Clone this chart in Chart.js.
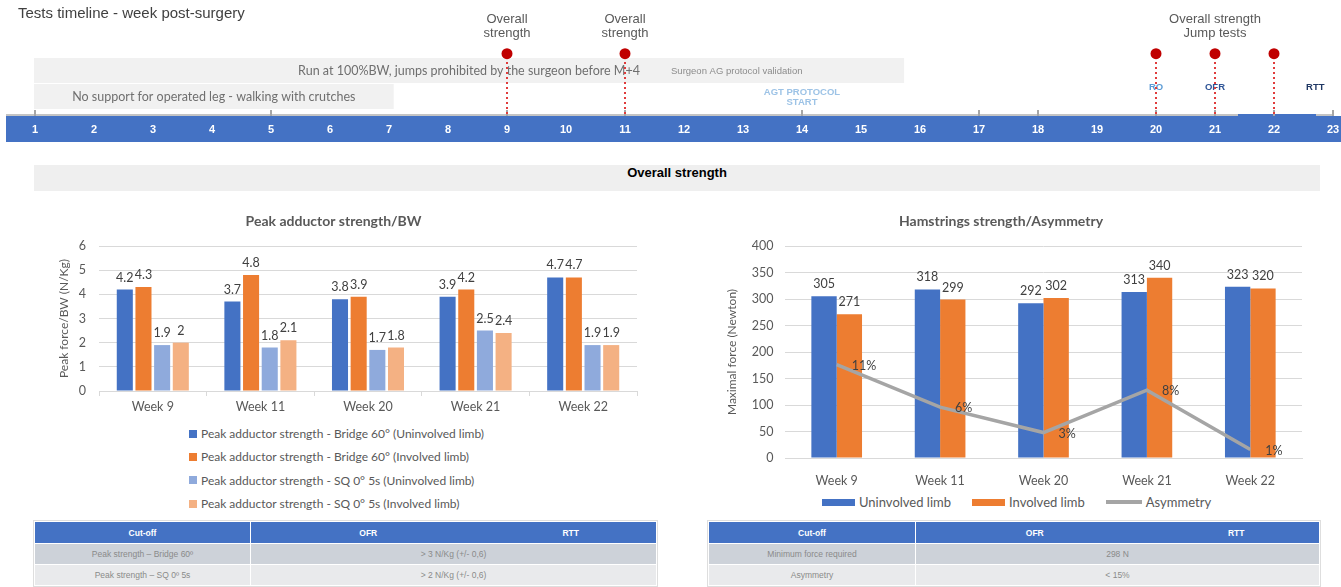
<!DOCTYPE html>
<html>
<head>
<meta charset="utf-8">
<script src="https://cdn.jsdelivr.net/npm/chart.js@4.4.1/dist/chart.umd.min.js"></script>
<style>
  html, body { margin: 0; padding: 0; background: #fff; }
  body { width: 1341px; height: 587px; position: relative; overflow: hidden; font-family: Lato, sans-serif; }
  canvas { position: absolute; }
  #timeline { left: 0; top: 0; }
  #adductor { left: 30px; top: 200px; }
  #hamstrings { left: 700px; top: 200px; }
  #banner {
    position: absolute; left: 34px; top: 165px; width: 1286px; height: 26px;
    background: #efefef; color: #000; text-align: center; line-height: 26px;
    font: bold 13px "Liberation Sans", Arial, sans-serif;
  }
  .legend { position: absolute; font-family: Lato, sans-serif; color: #595959; }
  #adductorLegend { left: 189px; top: 422px; font-size: 12px; }
  #adductorLegend .item { display: flex; align-items: center; height: 23.3px; }
  #adductorLegend .sw { width: 8px; height: 8px; margin-right: 4px; }
  #hamLegend { left: 822px; top: 492px; font-size: 13px; display: flex; align-items: center; height: 20px; gap: 21px; }
  #hamLegend .item { display: flex; align-items: center; }
  #hamLegend .sw { width: 33px; height: 7px; margin-right: 4px; }
  #hamLegend .sw.line { width: 36px; height: 3.5px; }
  table.cut {
    position: absolute; border-collapse: collapse; table-layout: fixed;
    font-family: "Liberation Sans", Arial, sans-serif; font-size: 8.5px;
    outline: 1px solid #dedede;
  }
  table.cut th { background: #4472c4; color: #fff; font-weight: bold; height: 21px; border: 1px solid #fff; padding: 0; text-align: center; }
  table.cut th:nth-child(2) { border-right-style: none; }
  table.cut th:nth-child(3) { border-left-style: none; }
  table.cut td { height: 20px; color: #8a8a8a; border: 1px solid #fff; padding: 0; text-align: center; }
  table.cut tr.r1 td { background: #cdd2d9; }
  table.cut tr.r2 td { background: #e9eaec; }
  #adductorTable { left: 34px; top: 521px; width: 622px; }
  #hamTable { left: 708px; top: 521px; width: 611px; }
</style>
</head>
<body>
<canvas id="timeline" width="1341" height="150"></canvas>
<div id="banner">Overall strength</div>
<canvas id="adductor" width="640" height="220"></canvas>
<div id="adductorLegend" class="legend"></div>
<canvas id="hamstrings" width="641" height="290"></canvas>
<div id="hamLegend" class="legend"></div>
<table id="adductorTable" class="cut"></table>
<table id="hamTable" class="cut"></table>

<script>
// ---- Timeline (weeks post-surgery) ----
const TIMELINE_WEEKS = [1, 2, 3, 4, 5, 6, 7, 8, 9, 10, 11, 12, 13, 14, 15, 16, 17, 18, 19, 20, 21, 22, 23];
const TICK_MARK_WEEKS = [1, 5, 9, 11, 14, 17, 18, 20, 21, 22, 23];
const TEST_WEEKS = [9, 11, 20, 21, 22];
const TEST_CAPTIONS = [['Overall', 'strength'], ['Overall', 'strength'], ['Overall strength', 'Jump tests']];
const TEST_CAPTION_WEEKS = [9, 11, 21];
const PHASE_LABELS = ['Run at 100%BW, jumps prohibited by the surgeon before M+4', 'No support for operated leg - walking with crutches'];
const PHASE_START = [1, 1];
const PHASE_END = [15.73, 7.08];
const MILESTONE_LABELS = [['AGT PROTOCOL', 'START'], ['RO'], ['OFR'], ['RTT']];
const MILESTONE_WEEKS = [14, 20, 21, 22.7];
const MILESTONE_COLORS = ['#9dc3e6', '#5b9bd5', '#2f5597', '#203864'];
const VALIDATION_NOTE = 'Surgeon AG protocol validation';
const VALIDATION_WEEK = 11.78;

// ---- Adductor strength (N/kg) ----
const WEEKS = ['Week 9', 'Week 11', 'Week 20', 'Week 21', 'Week 22'];
const BRIDGE_UNINVOLVED = [4.2, 3.7, 3.8, 3.9, 4.7];
const BRIDGE_INVOLVED = [4.3, 4.8, 3.9, 4.2, 4.7];
const SQ_UNINVOLVED = [1.9, 1.8, 1.7, 2.5, 1.9];
const SQ_INVOLVED = [2, 2.1, 1.8, 2.4, 1.9];

// ---- Hamstrings strength (N) and asymmetry (%) ----
const HAM_UNINVOLVED = [305, 318, 292, 313, 323];
const HAM_INVOLVED = [271, 299, 302, 340, 320];
const ASYMMETRY = [11, 6, 3, 8, 1];

// ---- Cut-off tables ----
const TABLE_HEADER = ['Cut-off', 'OFR', 'RTT'];
const ADDUCTOR_CUTOFF_NAMES = ['Peak strength – Bridge 60º', 'Peak strength – SQ 0º 5s'];
const ADDUCTOR_CUTOFF_VALUES = ['> 3 N/Kg (+/- 0,6)', '> 2 N/Kg (+/- 0,6)'];
const HAM_CUTOFF_NAMES = ['Minimum force required', 'Asymmetry'];
const HAM_CUTOFF_VALUES = ['298 N', '< 15%'];

const MARK_ROW = 52;   // vertical row of the test markers on the timeline canvas

const timelineDecor = {
  id: 'timelineDecor',
  beforeDatasetsDraw(chart) {
    const { ctx, scales: { x } } = chart;
    const W = chart.width;
    const px = w => x.getPixelForValue(w);
    ctx.save();

    // title
    ctx.fillStyle = '#404040';
    ctx.font = '15px "Liberation Sans", Arial, sans-serif';
    ctx.textAlign = 'left'; ctx.textBaseline = 'middle';
    ctx.fillText('Tests timeline - week post-surgery', 18, 14);

    // phase boxes
    const rowTops = [58, 84];
    PHASE_LABELS.forEach((label, i) => {
      const x0 = px(PHASE_START[i]) - 1, x1 = px(PHASE_END[i]);
      ctx.fillStyle = '#f1f1f1';
      ctx.fillRect(x0, rowTops[i], x1 - x0, 25);
      ctx.fillStyle = '#6f6f6f';
      ctx.font = '12.5px Lato, sans-serif';
      ctx.textAlign = 'center';
      ctx.fillText(label, (x0 + x1) / 2, rowTops[i] + 13);
    });
    ctx.fillStyle = '#8c8c8c';
    ctx.font = '9.5px "Liberation Sans", Arial, sans-serif';
    ctx.textAlign = 'left';
    ctx.fillText(VALIDATION_NOTE, px(VALIDATION_WEEK), 71);

    // milestone labels
    ctx.font = 'bold 9.5px "Liberation Sans", Arial, sans-serif';
    ctx.textAlign = 'center';
    MILESTONE_LABELS.forEach((lines, i) => {
      ctx.fillStyle = MILESTONE_COLORS[i];
      const y0 = lines.length > 1 ? 92 : 87;
      lines.forEach((t, k) => ctx.fillText(t, px(MILESTONE_WEEKS[i]), y0 + k * 10));
    });

    // week band
    ctx.fillStyle = '#c4c4c4';
    ctx.fillRect(6, 114, 1232, 2);
    ctx.fillRect(1316, 114, 16, 2);
    ctx.fillStyle = '#4472c4';
    ctx.fillRect(6, 116, W - 6, 26);
    ctx.fillRect(1238, 114, 78, 2);
    ctx.fillStyle = '#a6a6a6';
    TICK_MARK_WEEKS.forEach(w => ctx.fillRect(Math.round(px(w)) - 1, 110, 2, 6));
    ctx.fillStyle = '#ffffff';
    ctx.font = 'bold 11px "Liberation Sans", Arial, sans-serif';
    TIMELINE_WEEKS.forEach(w => ctx.fillText(String(w), px(w), 130));

    // test captions
    ctx.fillStyle = '#595959';
    ctx.font = '13px "Liberation Sans", Arial, sans-serif';
    TEST_CAPTIONS.forEach((lines, i) => {
      lines.forEach((t, k) => ctx.fillText(t, px(TEST_CAPTION_WEEKS[i]), 19 + k * 14));
    });

    // dotted drop lines
    ctx.strokeStyle = '#e03c3c';
    ctx.lineWidth = 2;
    ctx.setLineDash([2, 3]);
    TEST_WEEKS.forEach(w => {
      ctx.beginPath();
      ctx.moveTo(px(w), MARK_ROW + 5);
      ctx.lineTo(px(w), 115);
      ctx.stroke();
    });
    ctx.restore();
  }
};

new Chart(document.getElementById('timeline'), {
  type: 'scatter',
  data: {
    datasets: [{
      data: TEST_WEEKS.map(w => ({ x: w, y: MARK_ROW })),
      pointRadius: 5.5, pointHoverRadius: 5.5,
      pointBackgroundColor: '#c00000', pointBorderWidth: 0
    }]
  },
  options: {
    responsive: false, animation: false, events: [],
    layout: { padding: { left: 35, right: 8, top: 0, bottom: 0 } },
    scales: {
      x: { type: 'linear', min: 1, max: 23, display: false },
      y: { min: 0, max: 150, reverse: true, display: false }
    },
    plugins: { legend: { display: false }, tooltip: { enabled: false } }
  },
  plugins: [timelineDecor]
});

// value labels above bars / right of line points
const valueLabels = {
  id: 'valueLabels',
  afterDatasetsDraw(chart, args, opts) {
    const { ctx } = chart;
    ctx.save();
    ctx.font = opts.font;
    ctx.fillStyle = opts.color;
    ctx.textBaseline = 'middle';
    chart.data.datasets.forEach((ds, i) => {
      const meta = chart.getDatasetMeta(i);
      meta.data.forEach((el, j) => {
        const text = String(ds.data[j]) + (ds.valueSuffix || '');
        if (meta.type === 'line') {
          ctx.textAlign = 'left';
          ctx.fillText(text, el.x + 15, el.y + 1);
        } else {
          ctx.textAlign = 'center';
          ctx.fillText(text, el.x, el.y - 12);
        }
      });
    });
    ctx.restore();
  }
};

const axisFont = { family: 'Lato', size: 12.5 };
const titleFont = { family: 'Lato', size: 14, weight: 'bold' };

const adductorChart = new Chart(document.getElementById('adductor'), {
  type: 'bar',
  data: {
    labels: WEEKS,
    datasets: [
      { label: 'Peak adductor strength - Bridge 60° (Uninvolved limb)', data: BRIDGE_UNINVOLVED, backgroundColor: '#4472c4' },
      { label: 'Peak adductor strength - Bridge 60° (Involved limb)', data: BRIDGE_INVOLVED, backgroundColor: '#ed7d31' },
      { label: 'Peak adductor strength - SQ 0° 5s (Uninvolved limb)', data: SQ_UNINVOLVED, backgroundColor: '#8faadc' },
      { label: 'Peak adductor strength - SQ 0° 5s (Involved limb)', data: SQ_INVOLVED, backgroundColor: '#f4b183' }
    ]
  },
  options: {
    responsive: false, animation: false, events: [],
    layout: { padding: { left: 0, right: 33, top: 0, bottom: 0 } },
    datasets: { bar: { categoryPercentage: 0.694, barPercentage: 0.86 } },
    scales: {
      x: {
        grid: { display: true, drawOnChartArea: false, drawTicks: true, tickLength: 5, color: '#d9d9d9' },
        border: { display: true, color: '#d9d9d9' },
        ticks: { font: axisFont, color: '#595959', padding: 3 },
        afterFit(s) { s.height = 29; }
      },
      y: {
        min: 0, max: 6,
        ticks: { stepSize: 1, font: axisFont, color: '#595959', padding: 13 },
        grid: { color: '#d9d9d9', drawTicks: false },
        border: { display: false },
        title: { display: true, text: 'Peak force/BW (N/Kg)', font: { family: 'Lato', size: 12 }, color: '#595959', padding: { top: 27, bottom: 0 } },
        afterFit(s) { s.width = 69; }
      }
    },
    plugins: {
      legend: { display: false }, tooltip: { enabled: false },
      title: { display: true, text: 'Peak adductor strength/BW', font: titleFont, color: '#595959', padding: { top: 12.6, bottom: 16.6 } },
      valueLabels: { font: '12.5px Lato, sans-serif', color: '#404040' }
    }
  },
  plugins: [valueLabels]
});

const hamChart = new Chart(document.getElementById('hamstrings'), {
  type: 'bar',
  data: {
    labels: WEEKS,
    datasets: [
      { type: 'bar', label: 'Uninvolved limb', data: HAM_UNINVOLVED, backgroundColor: '#4472c4', yAxisID: 'y', order: 2 },
      { type: 'bar', label: 'Involved limb', data: HAM_INVOLVED, backgroundColor: '#ed7d31', yAxisID: 'y', order: 2 },
      { type: 'line', label: 'Asymmetry', data: ASYMMETRY, valueSuffix: '%', borderColor: '#a5a5a5', backgroundColor: '#a5a5a5',
        borderWidth: 3.5, pointRadius: 0, pointHoverRadius: 0, yAxisID: 'y2', order: 1 }
    ]
  },
  options: {
    responsive: false, animation: false, events: [],
    layout: { padding: { left: 0, right: 39, top: 0, bottom: 0 } },
    datasets: { bar: { categoryPercentage: 0.49, barPercentage: 1.0 } },
    scales: {
      x: {
        grid: { display: false },
        border: { display: true, color: '#d9d9d9' },
        ticks: { font: axisFont, color: '#595959', padding: 7.7 },
        afterFit(s) { s.height = 32; }
      },
      y: {
        min: 0, max: 400,
        ticks: { stepSize: 50, font: axisFont, color: '#595959', padding: 11.5 },
        grid: { color: '#d9d9d9', drawTicks: false },
        border: { display: false },
        title: { display: true, text: 'Maximal force (Newton)', font: { family: 'Lato', size: 12 }, color: '#595959', padding: { top: 25, bottom: 0 } },
        afterFit(s) { s.width = 85; }
      },
      y2: { display: false, min: 0, max: 25 }
    },
    plugins: {
      legend: { display: false }, tooltip: { enabled: false },
      title: { display: true, text: 'Hamstrings strength/Asymmetry', font: titleFont, color: '#595959', padding: { top: 12.6, bottom: 16.6 } },
      valueLabels: { font: '12.5px Lato, sans-serif', color: '#404040' }
    }
  },
  plugins: [valueLabels]
});

// legends built from the charts' own datasets
function buildLegend(chart, el) {
  chart.data.datasets.forEach(ds => {
    const item = document.createElement('div');
    item.className = 'item';
    const sw = document.createElement('span');
    sw.className = 'sw' + (ds.type === 'line' ? ' line' : '');
    sw.style.background = ds.type === 'line' ? ds.borderColor : ds.backgroundColor;
    const tx = document.createElement('span');
    tx.textContent = ds.label;
    item.appendChild(sw); item.appendChild(tx);
    el.appendChild(item);
  });
}
buildLegend(adductorChart, document.getElementById('adductorLegend'));
buildLegend(hamChart, document.getElementById('hamLegend'));

// cut-off tables
function buildTable(el, widths, names, values) {
  let html = '<colgroup>' + widths.map(w => `<col style="width:${w}px">`).join('') + '</colgroup>';
  html += '<tr>' + TABLE_HEADER.map(h => `<th>${h}</th>`).join('') + '</tr>';
  names.forEach((n, i) => {
    html += `<tr class="r${i + 1}"><td>${n}</td><td colspan="2">${values[i].replace('<', '&lt;')}</td></tr>`;
  });
  el.innerHTML = html;
}
buildTable(document.getElementById('adductorTable'), [216, 235, 171], ADDUCTOR_CUTOFF_NAMES, ADDUCTOR_CUTOFF_VALUES);
buildTable(document.getElementById('hamTable'), [207, 238, 166], HAM_CUTOFF_NAMES, HAM_CUTOFF_VALUES);
</script>
</body>
</html>
